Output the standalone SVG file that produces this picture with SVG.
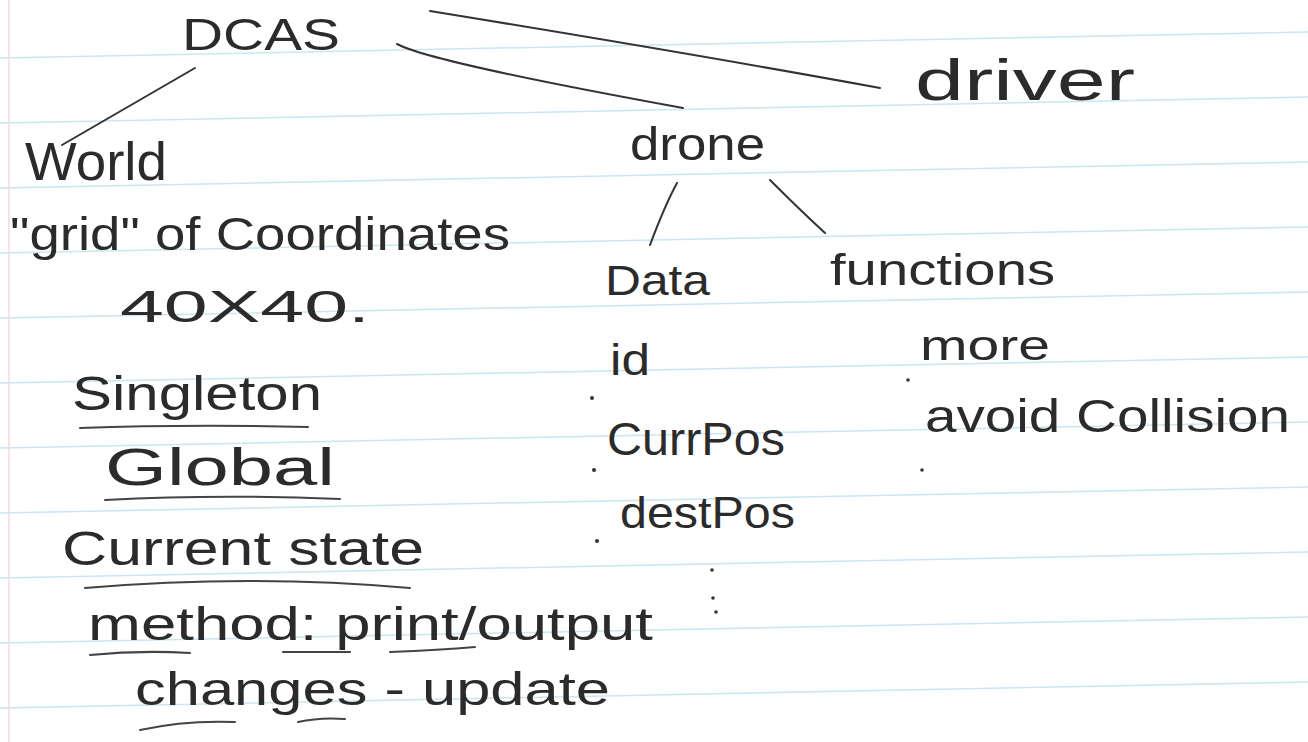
<svg xmlns="http://www.w3.org/2000/svg" width="1308" height="742" viewBox="0 0 1308 742">
<style>
.t{font-family:"Liberation Sans",Arial,sans-serif;fill:#2b2b2b;}
.ink{stroke:#333;stroke-width:2;fill:none;stroke-linecap:round;}
.ul{stroke:#444;stroke-width:2;fill:none;stroke-linecap:round;}
.rule{stroke:#cbe6f0;stroke-width:1.5;}
.dot{fill:#333;}
</style>
<rect width="1308" height="742" fill="#ffffff"/>
<g id="paper">
<line class="rule" x1="0" y1="58" x2="1308" y2="32"/>
<line class="rule" x1="0" y1="123" x2="1308" y2="97"/>
<line class="rule" x1="0" y1="188" x2="1308" y2="162"/>
<line class="rule" x1="0" y1="253" x2="1308" y2="227"/>
<line class="rule" x1="0" y1="318" x2="1308" y2="292"/>
<line class="rule" x1="0" y1="383" x2="1308" y2="357"/>
<line class="rule" x1="0" y1="448" x2="1308" y2="422"/>
<line class="rule" x1="0" y1="513" x2="1308" y2="487"/>
<line class="rule" x1="0" y1="578" x2="1308" y2="552"/>
<line class="rule" x1="0" y1="643" x2="1308" y2="617"/>
<line class="rule" x1="0" y1="708" x2="1308" y2="682"/>
<line x1="9" y1="0" x2="9" y2="742" stroke="#f6d6dc" stroke-width="1.5"/>
</g>
<g id="connectors">
<path class="ink" d="M195,68 Q140,100 62,145"/>
<path class="ink" d="M397,44 Q430,62 683,108"/>
<path class="ink" d="M430,11 Q700,55 880,88"/>
<path class="ink" d="M677,183 Q665,205 650,245"/>
<path class="ink" d="M770,180 Q800,210 825,233"/>
</g>
<g id="DCAS"><text class="t" x="182" y="50" font-size="44" textLength="158" lengthAdjust="spacingAndGlyphs">DCAS</text></g>
<g id="driver"><text class="t" x="915" y="100" font-size="58" textLength="220" lengthAdjust="spacingAndGlyphs">driver</text></g>
<g id="world">
<text class="t" x="25" y="180" font-size="54" textLength="142" lengthAdjust="spacingAndGlyphs">World</text>
<text class="t" x="10" y="250" font-size="46" textLength="500" lengthAdjust="spacingAndGlyphs">"grid" of Coordinates</text>
<text class="t" x="120" y="322" font-size="44" textLength="250" lengthAdjust="spacingAndGlyphs">40X40.</text>
<text class="t" x="72" y="410" font-size="48" textLength="250" lengthAdjust="spacingAndGlyphs">Singleton</text>
<path class="ul" d="M80,428 Q190,424 308,427"/>
<text class="t" x="105" y="485" font-size="52" textLength="230" lengthAdjust="spacingAndGlyphs">Global</text>
<path class="ul" d="M105,500 Q220,494 340,499"/>
<text class="t" x="62" y="565" font-size="48" textLength="362" lengthAdjust="spacingAndGlyphs">Current state</text>
<path class="ul" d="M85,588 Q250,574 410,588"/>
<text class="t" x="88" y="640" font-size="46" textLength="565" lengthAdjust="spacingAndGlyphs">method: print/output</text>
<path class="ul" d="M90,655 Q140,650 190,653"/>
<path class="ul" d="M283,652 L350,652"/>
<path class="ul" d="M390,652 Q440,650 475,647"/>
<text class="t" x="135" y="705" font-size="46" textLength="475" lengthAdjust="spacingAndGlyphs">changes - update</text>
<path class="ul" d="M140,730 Q185,720 235,722"/>
<path class="ul" d="M298,722 Q320,717 345,719"/>
</g>
<g id="drone"><text class="t" x="630" y="160" font-size="46" textLength="135" lengthAdjust="spacingAndGlyphs">drone</text></g>
<g id="data">
<text class="t" x="605" y="295" font-size="42" textLength="105" lengthAdjust="spacingAndGlyphs">Data</text>
<text class="t" x="610" y="375" font-size="44" textLength="40" lengthAdjust="spacingAndGlyphs">id</text>
<text class="t" x="607" y="455" font-size="46" textLength="178" lengthAdjust="spacingAndGlyphs">CurrPos</text>
<text class="t" x="620" y="528" font-size="44" textLength="175" lengthAdjust="spacingAndGlyphs">destPos</text>
<circle class="dot" cx="592" cy="398" r="2"/>
<circle class="dot" cx="594" cy="470" r="2"/>
<circle class="dot" cx="597" cy="541" r="2"/>
<circle class="dot" cx="712" cy="570" r="1.8"/>
<circle class="dot" cx="713" cy="598" r="1.8"/>
<circle class="dot" cx="716" cy="612" r="1.8"/>
</g>
<g id="functions">
<text class="t" x="830" y="285" font-size="44" textLength="225" lengthAdjust="spacingAndGlyphs">functions</text>
<text class="t" x="920" y="360" font-size="42" textLength="130" lengthAdjust="spacingAndGlyphs">more</text>
<text class="t" x="925" y="432" font-size="46" textLength="365" lengthAdjust="spacingAndGlyphs">avoid Collision</text>
<circle class="dot" cx="908" cy="380" r="1.8"/>
<circle class="dot" cx="922" cy="470" r="1.8"/>
</g>
</svg>
